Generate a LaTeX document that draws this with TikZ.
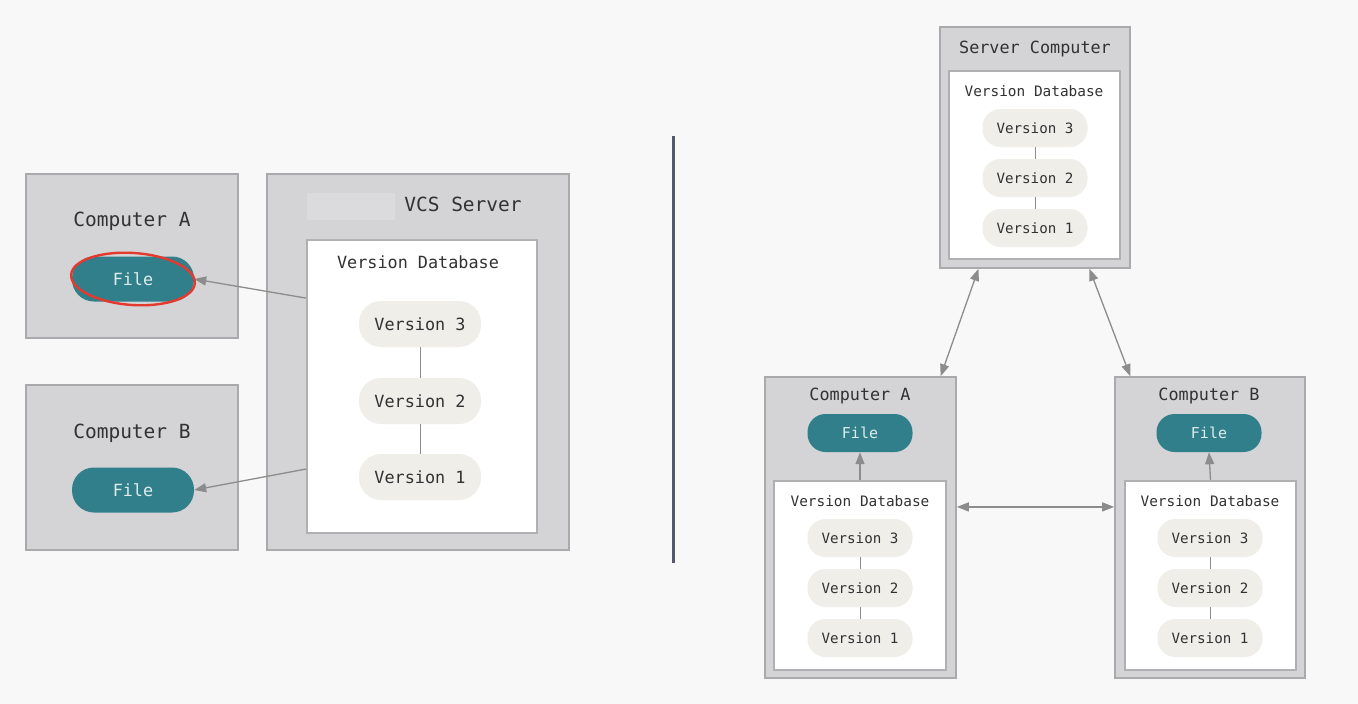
\documentclass[tikz,border=0pt]{standalone}
\usepackage{fontspec}
\setmonofont{DejaVu Sans Mono}
\usetikzlibrary{arrows.meta,calc}
\definecolor{bgcol}{RGB}{248,248,248}
\definecolor{hostfill}{RGB}{212,211,214}
\definecolor{hostline}{RGB}{170,169,172}
\definecolor{dbline}{RGB}{176,176,178}
\definecolor{pillfill}{RGB}{239,238,233}
\definecolor{fileteal}{RGB}{48,127,139}
\definecolor{filetext}{RGB}{222,236,236}
\definecolor{inkcol}{RGB}{50,50,50}
\definecolor{arrcol}{RGB}{140,140,140}
\definecolor{sepcol}{RGB}{84,88,104}
\definecolor{maskfill}{RGB}{219,219,221}
\definecolor{markred}{RGB}{228,58,46}
\begin{document}
\begin{tikzpicture}[x=1pt, y=-1pt, font=\ttfamily, text=inkcol,
  hostbox/.style={draw=hostline,line width=1.6pt,fill=hostfill,inner sep=0pt},
  dbbox/.style={draw=dbline,line width=1.6pt,fill=white,inner sep=0pt},
  verpill/.style={fill=pillfill,rounded corners=22pt,inner sep=0pt,minimum width=122pt,minimum height=46pt,font=\ttfamily\fontsize{16.8}{19}\selectfont},
  filepill/.style={verpill,fill=fileteal,text=filetext,minimum height=45pt},
  sverpill/.style={verpill,minimum width=105pt,minimum height=38pt,rounded corners=18pt,font=\ttfamily\fontsize{14.2}{17}\selectfont},
  sfilepill/.style={sverpill,fill=fileteal,text=filetext,font=\ttfamily\fontsize{15}{17}\selectfont},
  biglbl/.style={font=\ttfamily\fontsize{19.5}{22}\selectfont},
  midlbl/.style={font=\ttfamily\fontsize{16.8}{19}\selectfont},
  smllbl/.style={font=\ttfamily\fontsize{14.4}{17}\selectfont},
  lnk/.style={draw=arrcol,line width=0.9pt},
  arr/.style={draw=arrcol,line width=1.3pt,-{Triangle[length=12pt,width=9pt]}},
  darr/.style={arr,{Triangle[length=12pt,width=9pt]}-{Triangle[length=12pt,width=9pt]}}]
\fill[bgcol] (0,0) rectangle (1358,704);
% centralized VCS left
\begin{scope}
\node[hostbox,minimum width=212pt,minimum height=164pt] (ca) at (132,256) {};
\node[hostbox,minimum width=212pt,minimum height=165pt] (cb) at (132,467.5) {};
\node[hostbox,minimum width=302pt,minimum height=376pt] (vcs) at (418,362) {};
\node[fill=maskfill,inner sep=0pt,minimum width=88pt,minimum height=27pt] (mask) at (351,206.5) {};
\node[dbbox,minimum width=230pt,minimum height=293pt] (vdb) at (422,386.5) {};
\node[biglbl] (lca) at (132,221) {Computer A};
\node[biglbl] (lcb) at (132,433) {Computer B};
\node[biglbl] (lvcs) at (463,204) {VCS Server};
\node[midlbl] (lvdb) at (418,262) {Version Database};
\node[verpill] (v3) at (420,324) {Version 3};
\node[verpill] (v2) at (420,401) {Version 2};
\node[verpill] (v1) at (420,477) {Version 1};
\draw[lnk] (v3) -- (v2); \draw[lnk] (v2) -- (v1);
\node[filepill] (fa) at (133,279) {File};
\node[filepill] (fb) at (133,490) {File};
\coordinate (oa) at ($(vdb.north west)!0.2!(vdb.south west)$);
\coordinate (ob) at ($(vdb.north west)!0.78!(vdb.south west)$);
\draw[arr] (oa) -- (fa.east);
\draw[arr] (ob) -- (fb.east);
\draw[markred,line width=2.4pt,rotate around={-4:(fa.center)}] (fa.center) ellipse [x radius=62, y radius=26];
\end{scope}
% divider
\draw[sepcol,line width=3pt] (673,136) -- (673,563);
% distributed VCS right
\begin{scope}
\node[hostbox,minimum width=190pt,minimum height=241pt] (srv) at (1035,147.5) {};
\node[dbbox,minimum width=171pt,minimum height=188pt] (sdb) at (1034.5,165) {};
\node[midlbl] (lsrv) at (1035,49) {Server Computer};
\node[smllbl] (lsdb) at (1034,91) {Version Database};
\node[sverpill] (s3) at (1035,128) {Version 3};
\node[sverpill] (s2) at (1035,178) {Version 2};
\node[sverpill] (s1) at (1035,228) {Version 1};
\draw[lnk] (s3) -- (s2); \draw[lnk] (s2) -- (s1);
% computer A
\node[hostbox,minimum width=191pt,minimum height=301pt] (rca) at (860.5,527.5) {};
\node[dbbox,minimum width=172pt,minimum height=189pt] (adb) at (860,575.5) {};
\node[midlbl] (lrca) at (860,396) {Computer A};
\node[sfilepill] (afile) at (860,433) {File};
\node[smllbl] (ladb) at (860,501) {Version Database};
\node[sverpill] (a3) at (860,538) {Version 3};
\node[sverpill] (a2) at (860,588) {Version 2};
\node[sverpill] (a1) at (860,638) {Version 1};
\draw[lnk] (a3) -- (a2); \draw[lnk] (a2) -- (a1);
\draw[arr] (adb.north) -- (afile.south);
% computer B
\node[hostbox,minimum width=190pt,minimum height=301pt] (rcb) at (1210,527.5) {};
\node[dbbox,minimum width=171pt,minimum height=189pt] (bdb) at (1210.5,575.5) {};
\node[midlbl] (lrcb) at (1209,396) {Computer B};
\node[sfilepill] (bfile) at (1209,433) {File};
\node[smllbl] (lbdb) at (1210,501) {Version Database};
\node[sverpill] (b3) at (1210,538) {Version 3};
\node[sverpill] (b2) at (1210,588) {Version 2};
\node[sverpill] (b1) at (1210,638) {Version 1};
\draw[lnk] (b3) -- (b2); \draw[lnk] (b2) -- (b1);
\draw[arr] (bdb.north) -- (bfile.south);
% sync arrows
\coordinate (sa) at ($(srv.south west)!0.205!(srv.south east)$);
\coordinate (sb) at ($(srv.south west)!0.784!(srv.south east)$);
\coordinate (ta) at ($(rca.north west)!0.916!(rca.north east)$);
\coordinate (tb) at ($(rcb.north west)!0.084!(rcb.north east)$);
\coordinate (ab) at ($(rca.north east)!0.432!(rca.south east)$);
\draw[darr] (sa) -- (ta);
\draw[darr] (sb) -- (tb);
\draw[darr] (ab) -- (ab -| rcb.west);
\end{scope}
\end{tikzpicture}
\end{document}
